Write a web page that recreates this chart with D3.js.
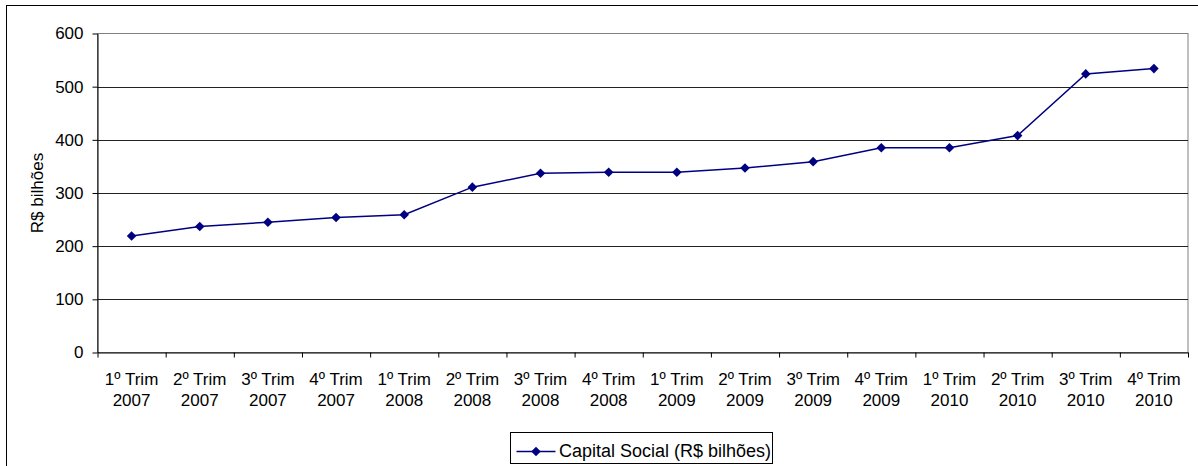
<!DOCTYPE html>
<html>
<head>
<meta charset="utf-8">
<script src="https://cdn.jsdelivr.net/npm/d3@7"></script>
<style>
  body { margin: 0; background: #fff; }
  svg text { font-family: "Liberation Sans", Arial, sans-serif; fill: #000; }
</style>
</head>
<body>
<svg id="chart" width="1198" height="466"></svg>
<script>
// Quarterly share capital, R$ billions
const quarters = ["1º Trim","2º Trim","3º Trim","4º Trim","1º Trim","2º Trim","3º Trim","4º Trim",
                  "1º Trim","2º Trim","3º Trim","4º Trim","1º Trim","2º Trim","3º Trim","4º Trim"];
const years = ["2007","2007","2007","2007","2008","2008","2008","2008",
               "2009","2009","2009","2009","2010","2010","2010","2010"];
const capitalSocial = [219, 237, 245, 254, 259, 311, 337, 339, 339, 347, 359, 385, 385, 408, 524, 534];
const yTicks = [0, 100, 200, 300, 400, 500, 600];
const seriesName = "Capital Social (R$ bilhões)";
const yTitle = "R$ bilhões";

const svg = d3.select("#chart");
const fontSize = 17;
const navy = "#000080";

const plot = { left: 97.5, right: 1188, top: 33.5, bottom: 352.5 };

const idx = d3.range(capitalSocial.length);
const x = d3.scaleBand().domain(idx).range([plot.left, plot.right]);
const xEdge = d3.scaleLinear().domain([0, capitalSocial.length]).range([plot.left, plot.right]);
const y = d3.scaleLinear().domain([0, 600]).range([plot.bottom, plot.top]);

// outer chart frame
svg.append("rect")
  .attr("x", 6.5).attr("y", 5.5).attr("width", 1200).attr("height", 470)
  .attr("fill", "#fff").attr("stroke", "#000").attr("stroke-width", 1);

// plot area border (grey)
svg.append("rect")
  .attr("x", plot.left).attr("y", plot.top)
  .attr("width", plot.right - plot.left).attr("height", plot.bottom - plot.top)
  .attr("fill", "#fff").attr("stroke", "#808080").attr("stroke-width", 1);

// horizontal gridlines
svg.append("g").selectAll("line")
  .data(yTicks.filter(v => v > 0 && v < 600))
  .join("line")
  .attr("x1", plot.left).attr("x2", plot.right)
  .attr("y1", d => Math.round(y(d)) + 0.5).attr("y2", d => Math.round(y(d)) + 0.5)
  .attr("stroke", "#222").attr("stroke-width", 1);

// y axis
const yAxis = svg.append("g")
  .attr("transform", `translate(${plot.left},0)`)
  .call(d3.axisLeft(y).tickValues(yTicks).tickSize(5).tickPadding(9).tickSizeOuter(0));
yAxis.select(".domain").attr("stroke", "#000");
yAxis.selectAll(".tick line").attr("stroke", "#000");
yAxis.selectAll(".tick text")
  .attr("font-size", fontSize).attr("font-family", null).attr("fill", "#000");

// x axis: ticks on category boundaries
const xAxis = svg.append("g")
  .attr("transform", `translate(0,${plot.bottom})`)
  .call(d3.axisBottom(xEdge).tickValues(d3.range(capitalSocial.length + 1))
        .tickSize(5).tickSizeOuter(0).tickFormat(""));
xAxis.select(".domain").attr("stroke", "#000");
xAxis.selectAll(".tick line").attr("stroke", "#000");

// two-line category labels
const labels = svg.append("g").selectAll("text")
  .data(idx)
  .join("text")
  .attr("text-anchor", "middle")
  .attr("font-size", fontSize);
labels.append("tspan").attr("x", d => x(d) + x.bandwidth() / 2).attr("y", 385).text(d => quarters[d]);
labels.append("tspan").attr("x", d => x(d) + x.bandwidth() / 2).attr("y", 406).text(d => years[d]);

// y axis title
svg.append("text")
  .attr("transform", `translate(43,${(plot.top + plot.bottom) / 2}) rotate(-90)`)
  .attr("text-anchor", "middle")
  .attr("font-size", fontSize)
  .text(yTitle);

// series line
const line = d3.line()
  .x((d, i) => x(i) + x.bandwidth() / 2)
  .y(d => y(d));
svg.append("path")
  .datum(capitalSocial)
  .attr("d", line)
  .attr("fill", "none")
  .attr("stroke", navy)
  .attr("stroke-width", 1.5);

// diamond markers
const diamond = d3.symbol().type(d3.symbolSquare).size(46);
svg.append("g").selectAll("path")
  .data(capitalSocial)
  .join("path")
  .attr("d", diamond)
  .attr("transform", (d, i) => `translate(${x(i) + x.bandwidth() / 2},${y(d)}) rotate(45)`)
  .attr("fill", navy);

// legend
const lg = svg.append("g").attr("transform", "translate(510.5,432.5)");
lg.append("rect").attr("width", 262).attr("height", 31)
  .attr("fill", "#fff").attr("stroke", "#000").attr("stroke-width", 1);
lg.append("line").attr("x1", 6).attr("x2", 45).attr("y1", 19).attr("y2", 19)
  .attr("stroke", navy).attr("stroke-width", 1.5);
lg.append("path").attr("d", diamond)
  .attr("transform", "translate(25.5,19) rotate(45)").attr("fill", navy);
lg.append("text").attr("x", 48.5).attr("y", 24).attr("font-size", 18).text(seriesName);
</script>
</body>
</html>
